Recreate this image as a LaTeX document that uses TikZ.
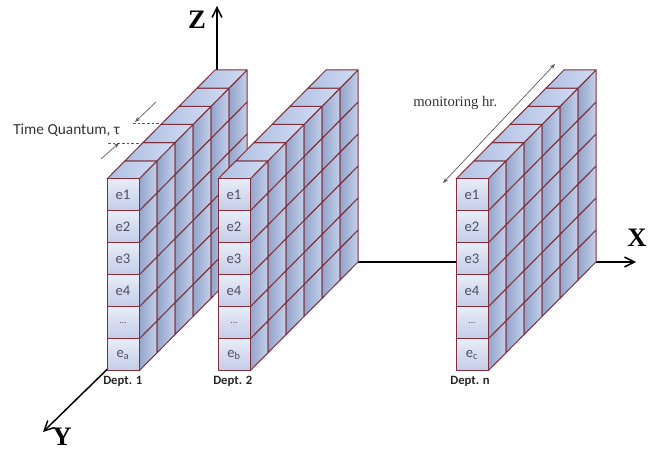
\documentclass[tikz,border=0pt]{standalone}
\usepackage{fontspec}
\setmainfont{Liberation Serif}
\setsansfont{Carlito}
\usetikzlibrary{arrows.meta}

\definecolor{edgered}{HTML}{7E2F3B}
\definecolor{frontlight}{HTML}{E8ECF8}
\definecolor{frontdark}{HTML}{C3CCE7}
\definecolor{sidelight}{HTML}{C4CFE9}
\definecolor{sidedark}{HTML}{93A5CC}
\definecolor{toplight}{HTML}{D2DCF2}
\definecolor{topdark}{HTML}{AEBFE3}
\definecolor{cellgray}{HTML}{4B5163}
\definecolor{notegray}{HTML}{5A5A5A}
\newcommand{\celldots}{{\fontsize{7}{8}\selectfont...}}

\begin{document}
\begin{tikzpicture}[x=0.75pt,y=-0.75pt]
\tikzset{
  cubeedge/.style={draw=edgered,line width=0.75pt,line join=round},
  frontcell/.style={cubeedge,top color=frontlight,bottom color=frontdark,minimum width=24pt,minimum height=24pt,inner sep=0pt,outer sep=0pt,text=cellgray,font=\sffamily\fontsize{11}{13}\selectfont},
  sideface/.style={cubeedge,left color=sidedark,right color=sidelight},
  topface/.style={cubeedge,left color=topdark,right color=toplight},
  axisline/.style={black,line width=1.1pt,-{Straight Barb[length=2.6mm,width=2.6mm,line width=1.1pt]}},
  axislabel/.style={font=\rmfamily\bfseries\fontsize{20}{22}\selectfont},
  deptlabel/.style={anchor=base west,inner sep=0pt,font=\sffamily\bfseries\fontsize{9.5}{11}\selectfont,text=black!85},
  notetext/.style={anchor=base west,inner sep=0pt,text=black!80},
  noteline/.style={notegray,line width=0.5pt},
  notearrow/.style={noteline,-{Stealth[length=4pt,width=3pt]}}
}
\useasboundingbox (0,0) rectangle (654,452);
\def\dx{18}
\def\dy{18.17}

% axes (behind the walls)
\coordinate (origin) at (217,262);
\coordinate (xtip) at (636,262);
\coordinate (ytip) at (43,432);
\coordinate (ztip) at (217,6);
\draw[axisline] (origin) -- (xtip);
\draw[axisline] (origin) -- (ytip);
\draw[axisline] (origin) -- (ztip);
\node[axislabel] (xlabel) at (637,238) {X};
\node[axislabel] (ylabel) at (62,437) {Y};
\node[axislabel] (zlabel) at (197,20) {Z};

% one wall per department
\foreach \wx/\wn/\ws in {107/dept1/a,218/dept2/b,456/deptn/c}{
  \begin{scope}[shift={(\wx,371)}]
    \foreach \r in {0,1,2,3,4,5}{
      \foreach \k in {0,1,2,3,4,5}{
        \draw[sideface] (32+\k*\dx,-\r*32-\k*\dy) -- ++(\dx,-\dy) -- ++(0,-32) -- ++(-\dx,\dy) -- cycle;
      }
    }
    \foreach \k in {0,1,2,3,4,5}{
      \draw[topface] (\k*\dx,-192-\k*\dy) -- ++(32,0) -- ++(\dx,-\dy) -- ++(-32,0) -- cycle;
    }
    \foreach \lbl [count=\r from 0] in {{e\textsubscript{\ws}},{\celldots},e4,e3,e2,e1}{
      \node[frontcell] (\wn-\r) at (16,-\r*32-16) {\lbl};
    }
  \end{scope}
}

\node[deptlabel] (d1label) at (103,385) {Dept. 1};
\node[deptlabel] (d2label) at (213,385) {Dept. 2};
\node[deptlabel] (dnlabel) at (450,385) {Dept. n};

% time quantum
\node[notetext,font=\sffamily\fontsize{11.5}{13}\selectfont] (tq) at (13,135) {Time Quantum, τ};
\coordinate (tqa) at (163,123);
\coordinate (tqa0) at (133,123);
\coordinate (tqb) at (143,143);
\coordinate (tqb0) at (108,143);
\coordinate (tqs1) at (156,102);
\coordinate (tqe1) at (135,122);
\coordinate (tqs2) at (101,159);
\coordinate (tqe2) at (119,143);
\draw[noteline,dashed,dash pattern=on 2pt off 1.5pt] (tqa0) -- (tqa);
\draw[noteline,dashed,dash pattern=on 2pt off 1.5pt] (tqb0) -- (tqb);
\draw[notearrow] (tqs1) -- (tqe1);
\draw[notearrow] (tqs2) -- (tqe2);

% monitoring hour
\node[notetext,font=\rmfamily\fontsize{11}{13}\selectfont] (mh) at (413,107) {monitoring hr.};
\coordinate (mha) at (443,183);
\coordinate (mhb) at (555,64);
\draw[noteline,{Stealth[length=4pt,width=3pt]}-{Stealth[length=4pt,width=3pt]}] (mha) -- (mhb);
\end{tikzpicture}
\end{document}
